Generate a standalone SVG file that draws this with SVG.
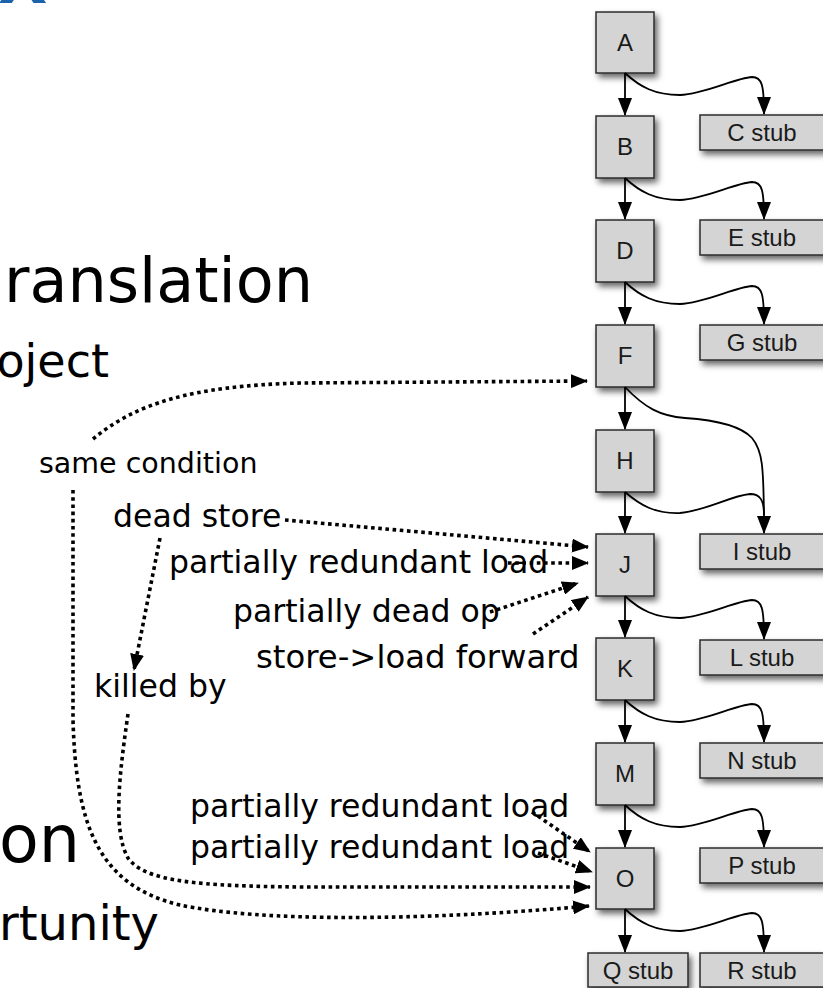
<svg xmlns="http://www.w3.org/2000/svg" width="823" height="988" viewBox="0 0 823 988">
  <defs>
    <filter id="sh" x="-20%" y="-20%" width="150%" height="160%">
      <feDropShadow dx="3" dy="4" stdDeviation="3" flood-color="#000" flood-opacity="0.6"/>
    </filter>
    <marker id="ah" markerUnits="userSpaceOnUse" markerWidth="18" markerHeight="14" refX="17" refY="7" orient="auto">
      <path d="M0,0 L18,7 L0,14 z" fill="#000"/>
    </marker>
    <marker id="dh" markerUnits="userSpaceOnUse" markerWidth="17" markerHeight="14" refX="16" refY="7" orient="auto">
      <path d="M0,0 L17,7 L0,14 z" fill="#000"/>
    </marker>
  </defs>
  <style>
    .box { fill:#d4d4d4; stroke:#2b2b2b; stroke-width:1.5; filter:url(#sh); }
    .bt { font-family:"Liberation Sans", Arial, sans-serif; font-size:24px; fill:#1a1a1a; text-anchor:middle; }
    .edge { fill:none; stroke:#000; stroke-width:1.8; }
    .dot { fill:none; stroke:#000; stroke-width:3.6; stroke-dasharray:3.6 3.6; }
    .lbl { font-family:"DejaVu Sans", Verdana, sans-serif; font-size:31.5px; fill:#000; }
    .big { font-family:"DejaVu Sans", Verdana, sans-serif; fill:#000; }
  </style>

  <!-- slide text fragments on the left -->
  <text x="-2" y="3" font-family="'DejaVu Sans', Verdana, sans-serif" font-weight="bold" font-size="64" fill="#1b64ad">X</text>
  <text class="big" x="313" y="302" font-size="62" text-anchor="end">ranslation</text>
  <text class="big" x="109" y="377" font-size="46" text-anchor="end">oject</text>
  <text class="big" x="80" y="862" font-size="65" text-anchor="end">on</text>
  <text class="big" x="159" y="940" font-size="48" text-anchor="end">rtunity</text>

  <!-- trace blocks -->
  <g id="A"><rect class="box" x="596" y="12" width="58" height="61"/><text class="bt" x="625" y="51">A</text></g>
  <g id="B"><rect class="box" x="596" y="116" width="58" height="62"/><text class="bt" x="625" y="155">B</text></g>
  <g id="D"><rect class="box" x="596" y="220" width="58" height="62"/><text class="bt" x="625" y="259">D</text></g>
  <g id="F"><rect class="box" x="596" y="325" width="58" height="62"/><text class="bt" x="625" y="364">F</text></g>
  <g id="H"><rect class="box" x="596" y="430" width="58" height="62"/><text class="bt" x="625" y="469">H</text></g>
  <g id="J"><rect class="box" x="596" y="534" width="58" height="62"/><text class="bt" x="625" y="573">J</text></g>
  <g id="K"><rect class="box" x="596" y="638" width="58" height="62"/><text class="bt" x="625" y="677">K</text></g>
  <g id="M"><rect class="box" x="596" y="743" width="58" height="62"/><text class="bt" x="625" y="782">M</text></g>
  <g id="O"><rect class="box" x="596" y="848" width="58" height="61"/><text class="bt" x="625" y="887">O</text></g>

  <!-- side-exit stubs -->
  <g id="Cstub"><rect class="box" x="700" y="115" width="126" height="35"/><text class="bt" x="762" y="141">C stub</text></g>
  <g id="Estub"><rect class="box" x="700" y="220" width="126" height="35"/><text class="bt" x="762" y="246">E stub</text></g>
  <g id="Gstub"><rect class="box" x="700" y="325" width="126" height="35"/><text class="bt" x="762" y="351">G stub</text></g>
  <g id="Istub"><rect class="box" x="700" y="534" width="126" height="35"/><text class="bt" x="762" y="560">I stub</text></g>
  <g id="Lstub"><rect class="box" x="700" y="640" width="126" height="35"/><text class="bt" x="762" y="666">L stub</text></g>
  <g id="Nstub"><rect class="box" x="700" y="743" width="126" height="35"/><text class="bt" x="762" y="769">N stub</text></g>
  <g id="Pstub"><rect class="box" x="700" y="848" width="126" height="35"/><text class="bt" x="762" y="874">P stub</text></g>
  <g id="Qstub"><rect class="box" x="588" y="953" width="100" height="34"/><text class="bt" x="638" y="979">Q stub</text></g>
  <g id="Rstub"><rect class="box" x="700" y="953" width="126" height="34"/><text class="bt" x="762" y="979">R stub</text></g>

  <!-- annotation labels -->
  <g id="labels">
    <text class="lbl" x="39" y="473" style="font-size:28.5px">same condition</text>
    <text class="lbl" x="113" y="527">dead store</text>
    <text class="lbl" x="169" y="573">partially redundant load</text>
    <text class="lbl" x="233" y="622">partially dead op</text>
    <text class="lbl" x="256" y="668" style="font-size:32.3px">store-&gt;load forward</text>
    <text class="lbl" x="94" y="697">killed by</text>
    <text class="lbl" x="190" y="817">partially redundant load</text>
    <text class="lbl" x="190" y="858">partially redundant load</text>
  </g>

  <!-- control-flow edges -->
  <g id="edges">
    <path class="edge" d="M625,73 L625,115" marker-end="url(#ah)"/>
    <path class="edge" d="M625,178 L625,219" marker-end="url(#ah)"/>
    <path class="edge" d="M625,282 L625,324" marker-end="url(#ah)"/>
    <path class="edge" d="M625,387 L625,429" marker-end="url(#ah)"/>
    <path class="edge" d="M625,492 L625,533" marker-end="url(#ah)"/>
    <path class="edge" d="M625,596 L625,637" marker-end="url(#ah)"/>
    <path class="edge" d="M625,700 L625,742" marker-end="url(#ah)"/>
    <path class="edge" d="M625,805 L625,847" marker-end="url(#ah)"/>
    <path class="edge" d="M625,909 L625,952" marker-end="url(#ah)"/>

    <path class="edge" d="M625,73 C640,87 655,95 680,95 C705,94 735,78 752,77 C762,77 764,85 764,114" marker-end="url(#ah)"/>
    <path class="edge" d="M625,178 C640,192 655,200 680,200 C705,199 735,183 752,182 C762,182 764,190 764,219" marker-end="url(#ah)"/>
    <path class="edge" d="M625,282 C640,296 655,304 680,304 C705,303 735,287 752,286 C762,286 764,294 764,324" marker-end="url(#ah)"/>
    <path class="edge" d="M625,387 C645,408 660,416 685,418 C715,420 740,425 752,438 C762,450 764,462 764,533" marker-end="url(#ah)"/>
    <path class="edge" d="M625,492 C640,505 655,514 680,513 C705,511 730,496 750,494 C760,494 764,500 764,515"/>
    <path class="edge" d="M625,596 C640,610 655,618 680,618 C705,617 735,601 752,600 C762,600 764,608 764,639" marker-end="url(#ah)"/>
    <path class="edge" d="M625,700 C640,714 655,722 680,722 C705,721 735,705 752,704 C762,704 764,712 764,742" marker-end="url(#ah)"/>
    <path class="edge" d="M625,805 C640,819 655,827 680,827 C705,826 735,810 752,809 C762,809 764,817 764,847" marker-end="url(#ah)"/>
    <path class="edge" d="M625,909 C640,923 655,931 680,931 C705,930 735,914 752,913 C762,913 764,921 764,952" marker-end="url(#ah)"/>
  </g>

  <!-- dotted annotation links -->
  <g id="links">
    <path class="dot" d="M93,439 C135,404 190,386 300,383 L587,381" marker-end="url(#dh)"/>
    <path class="dot" d="M73,490 L73,720 C76,820 95,885 180,905 C260,922 420,921 589,906" marker-end="url(#dh)"/>
    <path class="dot" d="M285,520 L588,547" marker-end="url(#dh)"/>
    <path class="dot" d="M508,563 L588,563" marker-end="url(#dh)"/>
    <path class="dot" d="M490,612 L578,583" marker-end="url(#dh)"/>
    <path class="dot" d="M533,634 L588,597" marker-end="url(#dh)"/>
    <path class="dot" d="M160,538 L134,670" marker-end="url(#dh)"/>
    <path class="dot" d="M128,714 C120,770 112,830 128,858 C145,882 200,886 300,887 L590,887" marker-end="url(#dh)"/>
    <path class="dot" d="M532,812 L590,852" marker-end="url(#dh)"/>
    <path class="dot" d="M538,853 L592,872" marker-end="url(#dh)"/>
  </g>
</svg>
